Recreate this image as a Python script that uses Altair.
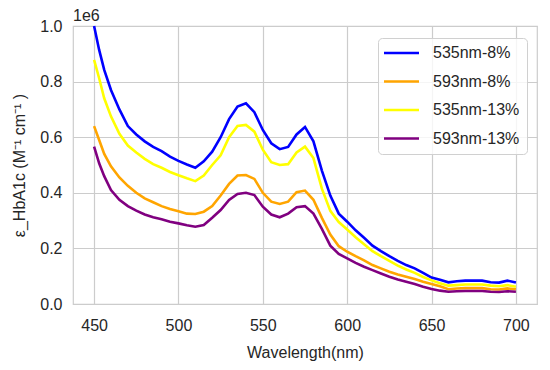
import altair as alt
import pandas as pd

wavelength = [450, 453, 456, 460, 465, 470, 475, 480, 485, 490, 495, 500, 505, 510, 515, 520,
              525, 530, 535, 540, 545, 550, 555, 560, 565, 570, 575, 580, 585, 590, 595, 600,
              605, 610, 615, 620, 625, 630, 635, 640, 645, 650, 655, 660, 665, 670, 675, 680,
              685, 690, 695, 700]

blue_535_8 = [1.0, 0.914, 0.842, 0.77, 0.70, 0.64, 0.61, 0.585, 0.565, 0.55, 0.53, 0.515, 0.502,
              0.49, 0.513, 0.548, 0.60, 0.665, 0.71, 0.722, 0.69, 0.626, 0.578, 0.557, 0.565,
              0.61, 0.637, 0.585, 0.48, 0.39, 0.325, 0.296, 0.265, 0.238, 0.21, 0.19, 0.172,
              0.155, 0.14, 0.128, 0.112, 0.095, 0.087, 0.078, 0.082, 0.084, 0.084, 0.084, 0.078,
              0.077, 0.084, 0.077]

orange_593_8 = [0.64, 0.59, 0.54, 0.495, 0.455, 0.425, 0.40, 0.38, 0.366, 0.352, 0.342, 0.334,
                0.325, 0.324, 0.332, 0.352, 0.39, 0.432, 0.462, 0.464, 0.45, 0.40, 0.368, 0.36,
                0.368, 0.402, 0.408, 0.375, 0.31, 0.25, 0.208, 0.188, 0.172, 0.157, 0.14, 0.128,
                0.116, 0.106, 0.098, 0.09, 0.08, 0.072, 0.064, 0.053, 0.056, 0.057, 0.057, 0.057,
                0.053, 0.052, 0.056, 0.053]

yellow_535_13 = [0.878, 0.812, 0.74, 0.675, 0.612, 0.57, 0.545, 0.522, 0.503, 0.49, 0.475, 0.463,
                 0.452, 0.442, 0.462, 0.50, 0.535, 0.60, 0.64, 0.644, 0.62, 0.555, 0.51, 0.50,
                 0.503, 0.545, 0.566, 0.525, 0.415, 0.335, 0.295, 0.268, 0.24, 0.215, 0.19, 0.172,
                 0.155, 0.138, 0.124, 0.112, 0.097, 0.085, 0.075, 0.066, 0.068, 0.070, 0.070, 0.070,
                 0.066, 0.064, 0.068, 0.062]

purple_593_13 = [0.566, 0.506, 0.46, 0.41, 0.375, 0.352, 0.336, 0.322, 0.312, 0.305, 0.296, 0.29,
                 0.283, 0.278, 0.284, 0.31, 0.338, 0.374, 0.396, 0.40, 0.392, 0.35, 0.322, 0.312,
                 0.325, 0.348, 0.352, 0.325, 0.27, 0.21, 0.18, 0.164, 0.148, 0.134, 0.122, 0.11,
                 0.098, 0.088, 0.08, 0.072, 0.062, 0.054, 0.048, 0.044, 0.046, 0.047, 0.047, 0.047,
                 0.044, 0.043, 0.046, 0.044]

series_names = ["535nm-8%", "593nm-8%", "535nm-13%", "593nm-13%"]
series_colors = ["#0000ff", "#ffa500", "#ffff00", "#800080"]
series_values = [blue_535_8, orange_593_8, yellow_535_13, purple_593_13]

rows = []
for name, vals in zip(series_names, series_values):
    for i, (w, v) in enumerate(zip(wavelength, vals)):
        rows.append({"wavelength": w, "eps": v, "series": name, "order": i})
df = pd.DataFrame(rows)

FONT = "Liberation Sans"
TXT = "#262626"

lines = alt.Chart(df).mark_line(strokeWidth=2.6, interpolate="linear").encode(
    x=alt.X("wavelength:Q",
            scale=alt.Scale(domain=[437.5, 712.5], nice=False, zero=False),
            axis=alt.Axis(values=[450, 500, 550, 600, 650, 700], title="Wavelength(nm)",
                          labelPadding=13, titlePadding=11)),
    y=alt.Y("eps:Q",
            scale=alt.Scale(domain=[0, 1.0], nice=False),
            axis=alt.Axis(values=[0, 0.2, 0.4, 0.6, 0.8, 1.0], format=".1f",
                          title="ε_HbA1c (M⁻¹   cm⁻¹   )", labelPadding=11, titlePadding=12)),
    color=alt.Color("series:N",
                    scale=alt.Scale(domain=series_names, range=series_colors),
                    legend=alt.Legend(title=None, orient="none", legendX=305, legendY=12,
                                      symbolType="M-3.5,0H3.5", symbolSize=100,
                                      symbolOffset=8.5,
                                      symbolStrokeWidth=2.6, labelFontSize=16,
                                      labelFont=FONT, labelColor=TXT,
                                      strokeColor="#d0d0d0", fillColor="rgba(255,255,255,0.8)",
                                      cornerRadius=4, padding=7, rowPadding=12.5,
                                      labelOffset=23.5)),
    order="order:Q",
)

exp_label = alt.Chart(pd.DataFrame({"t": ["1e6"]})).mark_text(
    align="left", baseline="alphabetic", fontSize=16, font=FONT, color=TXT
).encode(x=alt.value(0), y=alt.value(-5), text="t:N")

chart = alt.layer(lines, exp_label).properties(
    width=464, height=278,
    autosize=alt.AutoSizeParams(type="none"),
    padding={"left": 65, "top": 18, "right": 5, "bottom": 62},
).configure_view(
    stroke="#cccccc", strokeWidth=1.2
).configure_axis(
    grid=True, gridColor="#cccccc", gridWidth=1.2, domain=False, ticks=False,
    labelFont=FONT, titleFont=FONT, labelFontSize=16, titleFontSize=16,
    labelColor=TXT, titleColor=TXT, titleFontWeight="normal"
)

chart.save("out.html", embed_options={"renderer": "svg", "actions": False})
